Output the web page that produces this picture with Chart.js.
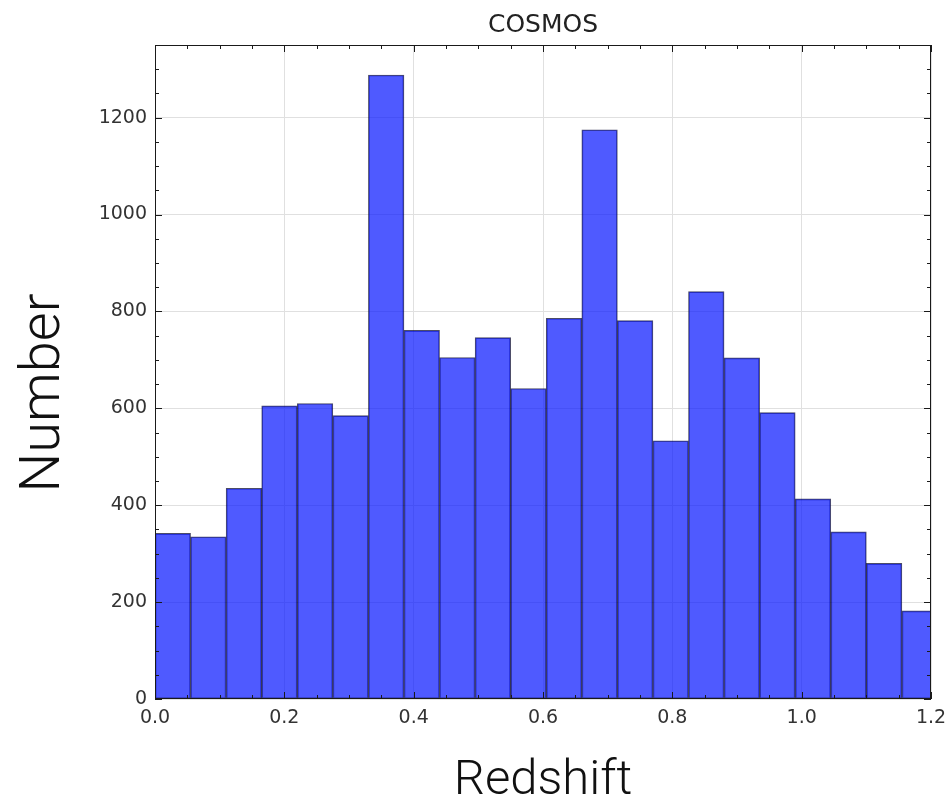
<!DOCTYPE html>
<html>
<head>
<meta charset="utf-8">
<title>COSMOS redshift distribution</title>
<script src="https://cdn.jsdelivr.net/npm/chart.js@4.4.1/dist/chart.umd.min.js"></script>
<style>
  html, body { margin: 0; padding: 0; background: #fff; }
  #wrap { width: 945px; height: 801px; }
</style>
</head>
<body>
<div id="wrap"><canvas id="cosmosHist" width="945" height="801"></canvas></div>
<script>
// histogram bins (redshift) and galaxy counts per bin
const binEdges = [0.000, 0.055, 0.110, 0.165, 0.220, 0.275, 0.330, 0.385, 0.440, 0.495, 0.550, 0.605,
                  0.660, 0.715, 0.770, 0.825, 0.880, 0.935, 0.990, 1.045, 1.100, 1.155, 1.210];
const counts = [342, 335, 435, 605, 610, 585, 1288, 761, 705, 746, 641,
                786, 1175, 781, 533, 841, 704, 591, 413, 345, 280, 182];
const xTicks = [0.0, 0.2, 0.4, 0.6, 0.8, 1.0, 1.2];
const yTicks = [0, 200, 400, 600, 800, 1000, 1200];

const bins = counts.map((c, i) => ({ x: (binEdges[i] + binEdges[i + 1]) / 2, y: c }));

Chart.defaults.font.family = "'DejaVu Sans', sans-serif";

// matplotlib-like frame with inward major/minor ticks on all four sides
const frameTicks = {
  id: 'frameTicks',
  afterDatasetsDraw(chart) {
    const { ctx, chartArea: a, scales: { x, y } } = chart;
    ctx.save();
    ctx.strokeStyle = '#1a1a1a';
    ctx.lineWidth = 1;
    const seg = (x1, y1, x2, y2) => { ctx.beginPath(); ctx.moveTo(x1, y1); ctx.lineTo(x2, y2); ctx.stroke(); };
    for (let i = 0; i <= 24; i++) {
      const v = i * 0.05;
      const px = Math.round(x.getPixelForValue(v)) + 0.5;
      const len = i % 4 === 0 ? 7 : 4;
      seg(px, a.bottom, px, a.bottom - len);
      seg(px, a.top, px, a.top + len);
    }
    for (let i = 0; i <= 27; i++) {
      const v = i * 50;
      const py = Math.round(y.getPixelForValue(v)) + 0.5;
      const len = i % 4 === 0 ? 7 : 4;
      seg(a.left, py, a.left + len, py);
      seg(a.right, py, a.right - len, py);
    }
    ctx.strokeRect(Math.round(a.left) + 0.5, Math.round(a.top) + 0.5,
                   Math.round(a.right - a.left) - 1, Math.round(a.bottom - a.top) - 1);
    ctx.restore();
  }
};

// y axis label, set a little below the axis centre
const numberLabel = {
  id: 'numberLabel',
  afterDraw(chart) {
    const { ctx } = chart;
    ctx.save();
    ctx.translate(45, 393);
    ctx.rotate(-Math.PI / 2);
    ctx.font = "300 56px Roboto, 'Liberation Sans', sans-serif";
    ctx.fillStyle = '#111';
    ctx.textAlign = 'center';
    ctx.textBaseline = 'middle';
    ctx.fillText('Number', 0, 0);
    ctx.restore();
  }
};

new Chart('cosmosHist', {
  type: 'bar',
  data: {
    datasets: [{
      data: bins,
      backgroundColor: 'rgba(0, 16, 255, 0.69)',
      borderColor: 'rgba(0, 0, 40, 0.7)',
      borderWidth: 1,
      borderSkipped: false,
      barPercentage: 1,
      categoryPercentage: 1,
      clip: 0
    }]
  },
  options: {
    responsive: false,
    animation: false,
    devicePixelRatio: 1,
    layout: { padding: { top: 0, left: 0, right: 14, bottom: 0 } },
    plugins: {
      legend: { display: false },
      tooltip: { enabled: false },
      title: {
        display: true,
        fullSize: false,
        text: 'COSMOS',
        color: '#222',
        font: { size: 25, weight: 'normal', lineHeight: 1 },
        padding: { top: 13, bottom: 7 }
      }
    },
    scales: {
      x: {
        type: 'linear',
        min: 0,
        max: 1.2,
        offset: false,
        afterBuildTicks: s => { s.ticks = xTicks.map(v => ({ value: v })); },
        afterFit: s => { s.height = 102; s.paddingLeft = 0; s.paddingRight = 0; },
        grid: { color: '#e0e0e0', drawTicks: false, offset: false },
        border: { display: false },
        ticks: {
          color: '#333',
          font: { size: 19 },
          padding: 8,
          maxRotation: 0,
          callback: v => v.toFixed(1)
        },
        title: {
          display: true,
          text: 'Redshift',
          color: '#111',
          font: { family: "Roboto, 'Liberation Sans', sans-serif", size: 49, weight: 300, lineHeight: 0.6 },
          padding: { top: 0, bottom: 5 }
        }
      },
      y: {
        min: 0,
        max: 1350,
        afterBuildTicks: s => { s.ticks = yTicks.map(v => ({ value: v })); },
        afterFit: s => { s.width = 155; s.paddingTop = 0; s.paddingBottom = 0; },
        grid: { color: '#e0e0e0', drawTicks: false },
        border: { display: false },
        ticks: { color: '#333', font: { size: 19 }, padding: 8, callback: v => String(v) }
      }
    }
  },
  plugins: [frameTicks, numberLabel]
});
</script>
</body>
</html>
